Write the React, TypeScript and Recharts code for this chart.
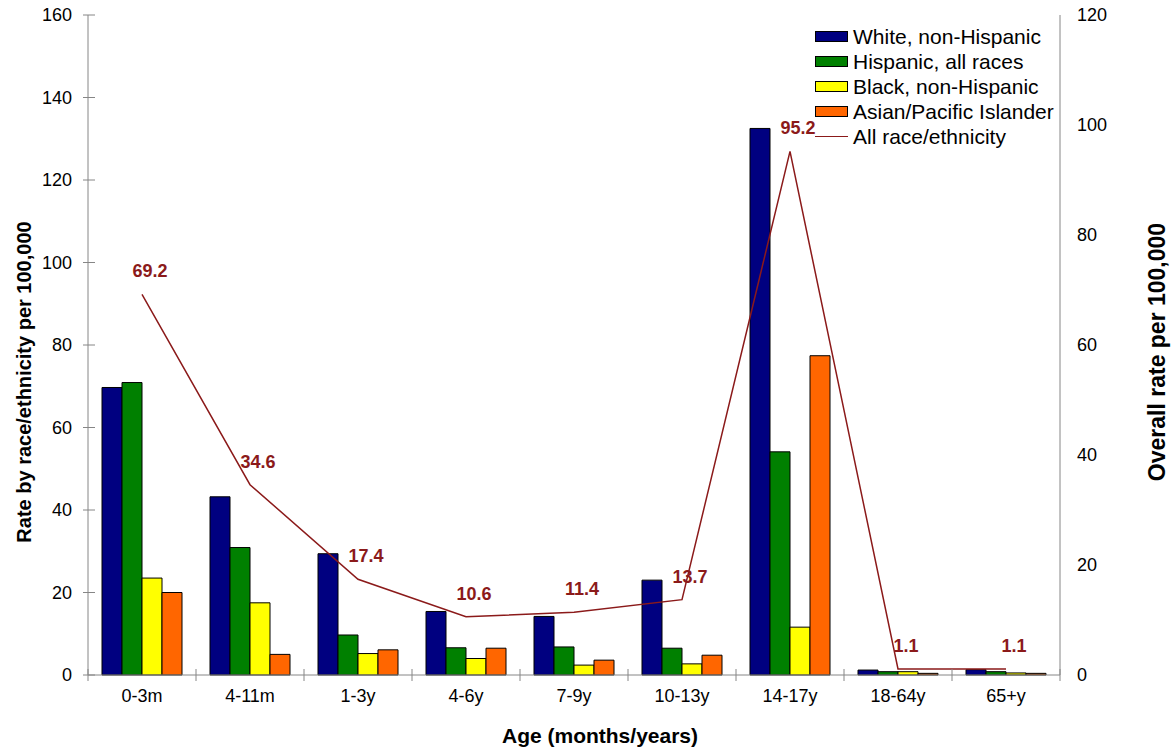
import { ComposedChart, Bar, Line, XAxis, YAxis, Legend, LabelList } from 'recharts'

const categories = ['0-3m', '4-11m', '1-3y', '4-6y', '7-9y', '10-13y', '14-17y', '18-64y', '65+y']
const white = [69.7, 43.2, 29.4, 15.4, 14.2, 23.0, 132.5, 1.2, 1.3]
const hispanic = [70.9, 30.9, 9.7, 6.6, 6.8, 6.5, 54.1, 0.8, 0.8]
const black = [23.5, 17.5, 5.2, 4.0, 2.4, 2.7, 11.6, 0.8, 0.5]
const asian = [20.0, 5.0, 6.1, 6.5, 3.6, 4.8, 77.4, 0.4, 0.4]
const overall = [69.2, 34.6, 17.4, 10.6, 11.4, 13.7, 95.2, 1.1, 1.1]
const leftTicks = [0, 20, 40, 60, 80, 100, 120, 140, 160]
const rightTicks = [0, 20, 40, 60, 80, 100, 120]

const data = categories.map((age, i) => ({
  age,
  white: white[i],
  hispanic: hispanic[i],
  black: black[i],
  asian: asian[i],
  overall: overall[i],
}))

const FONT = '"Liberation Sans", Arial, sans-serif'
const AXIS = '#868686'
const LINE = '#8B1A1A'
const W = 1176
const H = 751
const LEFT_W = 88
const RIGHT_W = 116
const TOP = 15
const X_H = 76
const band = (W - LEFT_W - RIGHT_W) / categories.length

const series = [
  { key: 'white', name: 'White, non-Hispanic', color: '#000080' },
  { key: 'hispanic', name: 'Hispanic, all races', color: '#008000' },
  { key: 'black', name: 'Black, non-Hispanic', color: '#FFFF00' },
  { key: 'asian', name: 'Asian/Pacific Islander', color: '#FF6600' },
]

function LeftTick({ x, y, payload }: any) {
  return (
    <g>
      <line x1={x - 5} x2={x + 7} y1={y} y2={y} stroke={AXIS} />
      <text x={x - 16} y={y} textAnchor="end" dominantBaseline="central" fontSize={18} fill="#000">
        {payload.value}
      </text>
    </g>
  )
}

function RightTick({ x, y, payload }: any) {
  return (
    <text x={x + 17} y={y} textAnchor="start" dominantBaseline="central" fontSize={18} fill="#000">
      {payload.value}
    </text>
  )
}

function BottomTick({ x, y, payload, index }: any) {
  return (
    <g>
      {index === 0 && <line x1={x - band / 2} x2={x - band / 2} y1={y - 6} y2={y + 6} stroke={AXIS} />}
      <line x1={x + band / 2} x2={x + band / 2} y1={y - 6} y2={y + 6} stroke={AXIS} />
      <text x={x} y={y + 21} textAnchor="middle" dominantBaseline="central" fontSize={18} fill="#000">
        {payload.value}
      </text>
    </g>
  )
}

function LineLabel({ x, y, value }: any) {
  return (
    <text x={x + 8} y={y - 23} textAnchor="middle" dominantBaseline="central" fontSize={18} fontWeight="bold" fill={LINE}>
      {Number(value).toFixed(1)}
    </text>
  )
}

const LeftTitle = () => (
  <text x={24} y={382} transform="rotate(-90 24 382)" textAnchor="middle" dominantBaseline="central" fontSize={20} fontWeight="bold" fill="#000">
    Rate by race/ethnicity per 100,000
  </text>
)

const RightTitle = () => (
  <text x={1157} y={352} transform="rotate(-90 1157 352)" textAnchor="middle" dominantBaseline="central" fontSize={23} fontWeight="bold" fill="#000">
    Overall rate per 100,000
  </text>
)

const BottomTitle = () => (
  <text x={600} y={735} textAnchor="middle" dominantBaseline="central" fontSize={21} fontWeight="bold" fill="#000">
    Age (months/years)
  </text>
)

function LegendBox() {
  const row = { display: 'flex', alignItems: 'center', height: 25, whiteSpace: 'nowrap' as const }
  return (
    <div style={{ fontFamily: FONT, fontSize: 21, color: '#000' }}>
      {series.map(s => (
        <div key={s.key} style={row}>
          <span style={{ width: 31, height: 9, background: s.color, border: '1px solid #000', marginRight: 5 }} />
          {s.name}
        </div>
      ))}
      <div style={row}>
        <span style={{ width: 33, height: 0, borderTop: `1.5px solid ${LINE}`, marginRight: 5 }} />
        All race/ethnicity
      </div>
    </div>
  )
}

export default function App() {
  return (
    <div style={{ position: 'absolute', left: 0, top: 0, width: W, height: H, background: '#fff', fontFamily: FONT }}>
      <ComposedChart
        width={W}
        height={H}
        data={data}
        margin={{ top: TOP, right: 0, left: 0, bottom: 0 }}
        barCategoryGap={14}
        barGap={0}
      >
        <XAxis
          dataKey="age"
          xAxisId="bars"
          height={X_H}
          axisLine={{ stroke: AXIS }}
          tickLine={false}
          tickSize={0}
          tickMargin={0}
          interval={0}
          tick={<BottomTick />}
          label={<BottomTitle />}
        />
        <YAxis
          yAxisId="left"
          width={LEFT_W}
          domain={[0, 160]}
          ticks={leftTicks}
          axisLine={{ stroke: AXIS }}
          tickLine={false}
          tickSize={0}
          tickMargin={0}
          tick={<LeftTick />}
          label={<LeftTitle />}
        />
        <YAxis
          yAxisId="right"
          orientation="right"
          width={RIGHT_W}
          domain={[0, 120]}
          ticks={rightTicks}
          axisLine={{ stroke: AXIS }}
          tickLine={false}
          tickSize={0}
          tickMargin={0}
          tick={<RightTick />}
          label={<RightTitle />}
        />
        <Legend
          layout="horizontal"
          verticalAlign="middle"
          align="center"
          content={<LegendBox />}
          wrapperStyle={{ left: 815, top: 24, width: 'auto' }}
        />
        {series.map(s => (
          <Bar
            key={s.key}
            xAxisId="bars"
            yAxisId="left"
            dataKey={s.key}
            name={s.name}
            fill={s.color}
            stroke="#000"
            strokeWidth={1}
            isAnimationActive={false}
          />
        ))}
        <Line
          xAxisId="bars"
          yAxisId="right"
          dataKey="overall"
          name="All race/ethnicity"
          stroke={LINE}
          strokeWidth={1.5}
          dot={false}
          isAnimationActive={false}
        >
          <LabelList dataKey="overall" content={<LineLabel />} />
        </Line>
      </ComposedChart>
    </div>
  )
}
